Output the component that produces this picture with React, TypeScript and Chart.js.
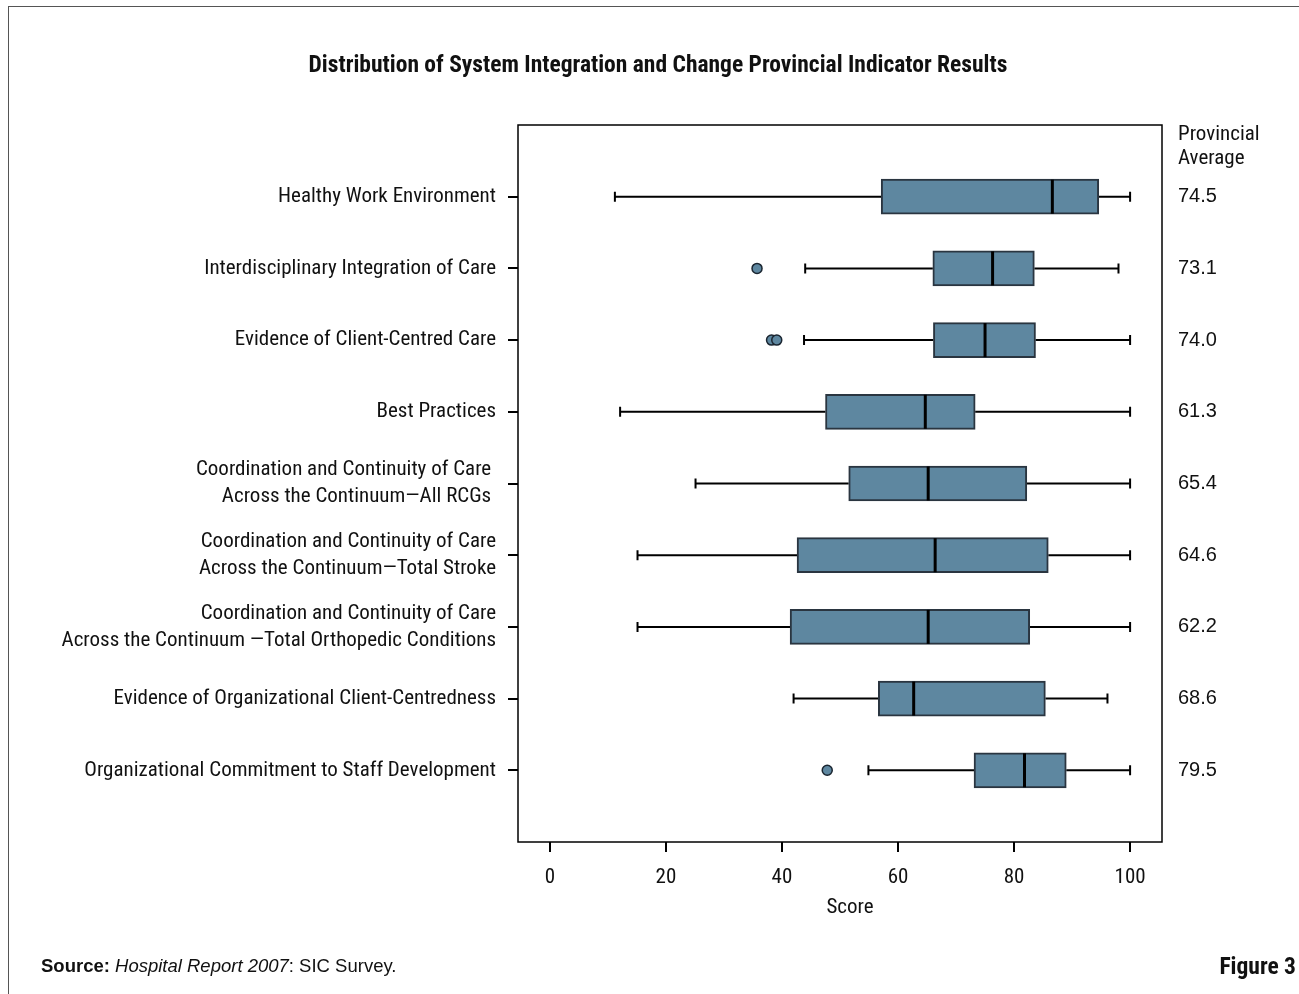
import React, { useEffect, useRef } from 'react';
import { Chart, registerables } from 'chart.js';

Chart.register(...registerables);

// ---------- Data ----------
const categories: string[][] = [
  ['Healthy Work Environment'],
  ['Interdisciplinary Integration of Care'],
  ['Evidence of Client-Centred Care'],
  ['Best Practices'],
  ['Coordination and Continuity of Care ', 'Across the Continuum\u2014All RCGs '],
  ['Coordination and Continuity of Care', 'Across the Continuum\u2014Total Stroke'],
  ['Coordination and Continuity of Care', 'Across the Continuum \u2014Total Orthopedic Conditions'],
  ['Evidence of Organizational Client-Centredness'],
  ['Organizational Commitment to Staff Development'],
];
const whiskerLow = [11.2, 44.0, 43.8, 12.1, 25.1, 15.1, 15.1, 42.0, 54.9];
const q1 = [57.1, 66.0, 66.1, 47.5, 51.5, 42.6, 41.4, 56.6, 73.1];
const median = [86.6, 76.3, 75.0, 64.7, 65.2, 66.4, 65.2, 62.7, 81.8];
const q3 = [94.6, 83.5, 83.7, 73.3, 82.2, 85.9, 82.7, 85.4, 89.0];
const whiskerHigh = [100, 98.0, 100, 100, 100, 100, 100, 96.1, 100];
const outliers: number[][] = [[], [35.7], [38.2, 39.1], [], [], [], [], [], [47.8]];
const provincialAverage = ['74.5', '73.1', '74.0', '61.3', '65.4', '64.6', '62.2', '68.6', '79.5'];
const xTicks = [0, 20, 40, 60, 80, 100];

const TITLE = 'Distribution of System Integration and Change Provincial Indicator Results';
const X_TITLE = 'Score';

// ---------- Styles ----------
const NARROW = "'Roboto Condensed', 'DejaVu Sans Condensed', sans-serif";
const ARIAL = "'Liberation Sans', Arial, sans-serif";
const BOX_FILL = '#5e87a0';
const BOX_EDGE = '#2a3540';

const boxParts = {
  id: 'boxParts',
  beforeDatasetsDraw(chart: any) {
    const { ctx, scales } = chart;
    const x = scales.x;
    const y = scales.y;
    ctx.save();
    ctx.strokeStyle = '#000';
    ctx.lineWidth = 2;
    categories.forEach((_, i) => {
      const py = y.getPixelForValue(i + 1);
      const lo = x.getPixelForValue(whiskerLow[i]);
      const a = x.getPixelForValue(q1[i]);
      const b = x.getPixelForValue(q3[i]);
      const hi = x.getPixelForValue(whiskerHigh[i]);
      ctx.beginPath();
      ctx.moveTo(lo, py);
      ctx.lineTo(a, py);
      ctx.moveTo(b, py);
      ctx.lineTo(hi, py);
      ctx.moveTo(lo, py - 5);
      ctx.lineTo(lo, py + 5);
      ctx.moveTo(hi, py - 5);
      ctx.lineTo(hi, py + 5);
      ctx.stroke();
    });
    ctx.restore();
  },
  afterDatasetsDraw(chart: any) {
    const { ctx, scales } = chart;
    const x = scales.x;
    const y = scales.y;
    ctx.save();
    ctx.strokeStyle = '#000';
    ctx.lineWidth = 3;
    categories.forEach((_, i) => {
      const py = y.getPixelForValue(i + 1);
      const m = x.getPixelForValue(median[i]);
      ctx.beginPath();
      ctx.moveTo(m, py - 17);
      ctx.lineTo(m, py + 17);
      ctx.stroke();
    });
    ctx.restore();
  },
  afterDraw(chart: any) {
    const { ctx, chartArea } = chart;
    ctx.save();
    ctx.strokeStyle = '#000';
    ctx.lineWidth = 1.5;
    ctx.strokeRect(chartArea.left, chartArea.top, chartArea.right - chartArea.left, chartArea.bottom - chartArea.top);
    ctx.restore();
  },
};

export default function App() {
  const canvasRef = useRef<HTMLCanvasElement | null>(null);

  useEffect(() => {
    if (!canvasRef.current) return;
    const rowTicks = (scale: any) => {
      scale.ticks = categories.map((_, i) => ({ value: i + 1 }));
    };
    const chart = new Chart(canvasRef.current, {
      type: 'bar',
      data: {
        datasets: [
          {
            type: 'bar',
            data: categories.map((_, i) => ({ x: [q1[i], q3[i]], y: i + 1 })) as any,
            backgroundColor: BOX_FILL,
            borderColor: BOX_EDGE,
            borderWidth: 2,
            borderSkipped: false,
            barThickness: 35,
            xAxisID: 'x',
            yAxisID: 'y',
          } as any,
          {
            type: 'scatter',
            data: outliers.flatMap((vals, i) => vals.map((v) => ({ x: v, y: i + 1 }))) as any,
            backgroundColor: BOX_FILL,
            borderColor: '#1a2530',
            borderWidth: 1.5,
            pointRadius: 5,
            xAxisID: 'x',
            yAxisID: 'y',
          } as any,
        ],
      },
      options: {
        indexAxis: 'y',
        animation: false,
        responsive: true,
        maintainAspectRatio: false,
        layout: { padding: { left: 0, right: 0, top: 125, bottom: 75 } },
        plugins: {
          legend: { display: false },
          title: { display: false },
          tooltip: { enabled: false },
        },
        scales: {
          x: {
            type: 'linear',
            position: 'bottom',
            min: -5.5,
            max: 105.5,
            afterBuildTicks: (scale: any) => {
              scale.ticks = xTicks.map((v) => ({ value: v }));
            },
            afterFit: (scale: any) => {
              scale.height = 77;
            },
            grid: { display: true, drawOnChartArea: false, drawTicks: true, tickLength: 10, color: '#000', lineWidth: 2 },
            border: { display: false },
            ticks: {
              padding: 13,
              color: '#111',
              font: { family: NARROW, size: 21 },
              maxRotation: 0,
            },
            title: { display: false, text: X_TITLE },
          },
          y: {
            type: 'linear',
            position: 'left',
            min: 0,
            max: 10,
            reverse: true,
            offset: false,
            afterBuildTicks: rowTicks,
            afterFit: (scale: any) => {
              scale.width = 518;
            },
            grid: { display: true, offset: false, drawOnChartArea: false, drawTicks: true, tickLength: 10, color: '#000', lineWidth: 2 },
            border: { display: false },
            ticks: {
              padding: 12,
              color: '#111',
              font: { family: NARROW, size: 21, lineHeight: 1.28 },
              callback: (v: any) => categories[Number(v) - 1] ?? '',
            },
          },
          y2: {
            type: 'linear',
            position: 'right',
            min: 0,
            max: 10,
            reverse: true,
            offset: false,
            afterBuildTicks: rowTicks,
            afterFit: (scale: any) => {
              scale.width = 137;
            },
            grid: { display: false, offset: false, drawTicks: false },
            border: { display: false },
            ticks: {
              padding: 16,
              color: '#111',
              font: { family: ARIAL, size: 20 },
              callback: (v: any) => provincialAverage[Number(v) - 1] ?? '',
            },
          },
        },
      },
      plugins: [boxParts],
    } as any);
    return () => chart.destroy();
  }, []);

  return (
    <div style={{ position: 'absolute', left: 0, top: 0, width: 1299, height: 994, overflow: 'hidden', background: '#fff' }}>
      <div
        style={{
          position: 'absolute',
          left: 8,
          top: 6,
          width: 1291,
          height: 988,
          borderLeft: '1px solid #555',
          borderTop: '1px solid #555',
          boxSizing: 'border-box',
        }}
      />
      <div style={{ position: 'absolute', left: 0, top: 0, width: 1299, height: 994 }}>
        <canvas ref={canvasRef} />
      </div>
      <div
        style={{
          position: 'absolute',
          left: 0,
          width: 1316,
          top: 51,
          lineHeight: '26px',
          textAlign: 'center',
          fontFamily: NARROW,
          fontWeight: 'bold',
          fontSize: 23.5,
          color: '#111',
          whiteSpace: 'nowrap',
        }}
      >
        {TITLE}
      </div>
      <div
        style={{
          position: 'absolute',
          left: 1178,
          top: 121,
          lineHeight: '24px',
          fontFamily: NARROW,
          fontSize: 21,
          color: '#111',
        }}
      >
        Provincial
        <br />
        Average
      </div>
      <div
        style={{
          position: 'absolute',
          left: 850,
          top: 894,
          transform: 'translateX(-50%)',
          lineHeight: '24px',
          fontFamily: NARROW,
          fontSize: 21,
          color: '#111',
          whiteSpace: 'nowrap',
        }}
      >
        {X_TITLE}
      </div>
      <div
        style={{
          position: 'absolute',
          left: 41,
          top: 956,
          lineHeight: '20px',
          fontFamily: ARIAL,
          fontSize: 18.5,
          color: '#111',
          whiteSpace: 'nowrap',
        }}
      >
        <b>Source:</b> <i>Hospital Report 2007</i>: SIC Survey.
      </div>
      <div
        style={{
          position: 'absolute',
          right: 3,
          top: 953,
          lineHeight: '26px',
          fontFamily: NARROW,
          fontWeight: 'bold',
          fontSize: 23.5,
          color: '#111',
          whiteSpace: 'nowrap',
        }}
      >
        Figure 3
      </div>
    </div>
  );
}
